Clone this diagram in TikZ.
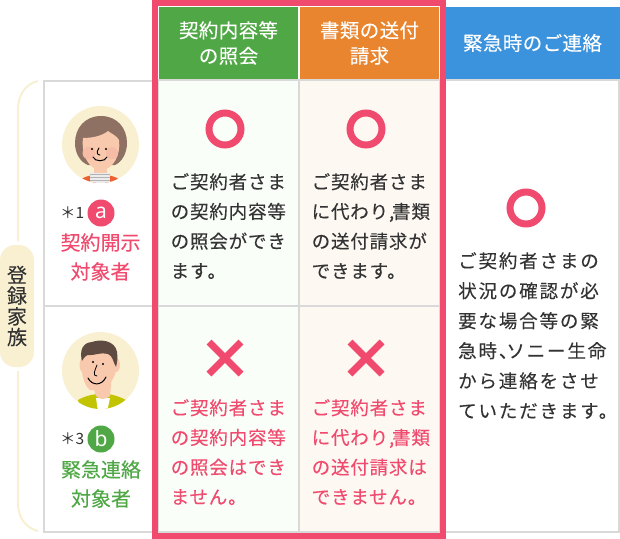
\documentclass[tikz,border=0pt]{standalone}
\usepackage{fontspec}
\usetikzlibrary{calc}
\setmainfont{Noto Sans CJK JP}[FakeBold=0.15]
\newfontfamily\latinf{Noto Sans}
\newfontfamily\cjkthin{Noto Sans CJK JP}
\definecolor{pinkc}{HTML}{F04A6E}
\definecolor{greenc}{HTML}{4FA845}
\definecolor{orangec}{HTML}{E8852E}
\definecolor{bluec}{HTML}{3A93DC}
\definecolor{beigec}{HTML}{F9F0D2}
\definecolor{gridc}{HTML}{D9D9D9}
\definecolor{inkc}{HTML}{333333}
\definecolor{greenbg}{HTML}{FAFEF9}
\definecolor{orangebg}{HTML}{FDF8F2}
\definecolor{hairA}{HTML}{8E7163}
\definecolor{hairB}{HTML}{5E4A40}
\definecolor{skinc}{HTML}{F9C9AE}
\definecolor{cheekc}{HTML}{F7BCA6}
\definecolor{shirtA}{HTML}{EE5F32}
\definecolor{shirtB}{HTML}{C3C400}
\tikzset{
  x=1pt,y=1pt,
  cellbox/.style={draw=gridc,line width=2pt},
  headbox/.style={draw=none,minimum height=72pt,text=white,font=\fontsize{19.5}{25.5}\selectfont\addfontfeature{LetterSpace=2},align=center,inner sep=0pt},
  para/.style={anchor=north west,inner sep=0pt,align=left,text=inkc,font=\fontsize{18.5}{29.7}\selectfont\addfontfeature{LetterSpace=4.5}},
  parb/.style={para,text=pinkc},
  role/.style={inner sep=0pt,align=center,font=\fontsize{20}{29}\selectfont},
  okmark/.style={circle,draw=pinkc,line width=7pt,minimum size=32pt,inner sep=0pt},
  badge/.style={circle,minimum size=27pt,inner sep=0pt,text=white,font=\latinf\bfseries\fontsize{21}{21}\selectfont},
  noteno/.style={inner sep=0pt,anchor=west,text=inkc,font=\cjkthin\fontsize{15.5}{15.5}\selectfont},
}
\begin{document}
\begin{tikzpicture}
\useasboundingbox (0,0) rectangle (620,-538);
\fill[white] (0,0) rectangle (620,-538);
% left cells
\draw[cellbox] (44,-81) rectangle (157,-306);
\draw[cellbox] (44,-306) rectangle (157,-532);
% middle columns
\draw[cellbox,fill=greenbg] (158,-80) rectangle (299,-306);
\draw[cellbox,fill=orangebg] (299,-80) rectangle (440,-306);
\draw[cellbox,fill=greenbg] (158,-306) rectangle (299,-532);
\draw[cellbox,fill=orangebg] (299,-306) rectangle (440,-532);
\draw[cellbox] (445,-80) rectangle (619,-532);
% headers
\node[headbox,fill=greenc,minimum width=139pt] (h1) at (228.5,-43) {契約内容等\\の照会};
\node[headbox,fill=orangec,minimum width=139pt] (h2) at (369.5,-43) {書類の送付\\請求};
\node[headbox,fill=bluec,minimum width=175pt] (h3) at (532.5,-43) {緊急時のご連絡};
% pink frame
\draw[pinkc,line width=6pt] (155,-3) rectangle (443,-536);
% marks
\node[okmark] (o1) at (225,-129) {};
\node[okmark] (o2) at (366,-129) {};
\node[okmark] (o3) at (526,-208) {};
\foreach \n/\cx in {x1/225,x2/366}{
  \coordinate (\n) at (\cx,-358);
  \draw[pinkc,line width=7pt] ($(\n)+(-16,16)$) -- ($(\n)+(16,-16)$);
  \draw[pinkc,line width=7pt] ($(\n)+(-16,-16)$) -- ($(\n)+(16,16)$);
}
% paragraphs
\node[para] (t1) at (170.5,-173) {ご契約者さま\\の契約内容等\\の照会ができ\\ます。};
\node[para] (t2) at (311.5,-173) {ご契約者さま\\に代わり,\kern-2pt 書類\\の送付請求が\\できます。};
\node[parb] (t3) at (170.5,-399) {ご契約者さま\\の契約内容等\\の照会はでき\\ません。};
\node[parb] (t4) at (311.5,-399) {ご契約者さま\\に代わり,\kern-2pt 書類\\の送付請求は\\できません。};
\node[para,font=\fontsize{18.5}{30}\selectfont\addfontfeature{LetterSpace=10}] (t5) at (458,-252) {ご契約者さまの\\状況の確認が必\\要な場合等の緊\\急時、\kern-11pt ソニー生命\\から連絡をさせ\\ていただきます。};
% bracket
\node[fill=beigec,rounded corners=15pt,minimum width=34pt,minimum height=122pt,inner sep=0pt,text=inkc,align=center,font=\fontsize{20}{20.7}\selectfont] (fam) at (17,-306) {登\\録\\家\\族};
\coordinate (br1) at (38,-81);
\coordinate (br2) at (38,-531);
\draw[beigec,line width=2pt] (br1) .. controls (26,-84) and (18,-94) .. (18,-110) -- (18,-241);
\draw[beigec,line width=2pt] (18,-371) -- (18,-503) .. controls (18,-518) and (26,-528) .. (br2);
% avatar a
\node[circle,fill=beigec,minimum size=77pt,inner sep=0pt] (ava) at (100.5,-144.5) {};
\begin{scope}
\clip (ava) circle (38.5);
\fill[shirtA] (78,-182) .. controls (86,-172) and (114,-172) .. (122,-182) -- (122,-190) -- (78,-190) -- cycle;
\fill[white!85!gray] (90,-172) rectangle (110,-184);
\foreach \yy in {-174,-177,-180}{\fill[gray!60] (90,\yy) rectangle (110,\yy-1.2);}
\fill[skinc] (94,-160) rectangle (107,-173) ;
\fill[hairA] (101,-116) .. controls (117,-116) and (127,-128) .. (127,-143) .. controls (127,-153) and (122,-162) .. (115,-165) -- (88,-165) .. controls (80,-162) and (75,-153) .. (75,-143) .. controls (75,-128) and (85,-116) .. (101,-116) -- cycle;
\fill[skinc] (83,-138) .. controls (92,-138) and (102,-136) .. (108,-131) .. controls (112,-134) and (117,-136) .. (119,-140) .. controls (121,-155) and (113,-170) .. (101,-170) .. controls (89,-170) and (81,-155) .. (83,-138) -- cycle;
\fill[cheekc] (89,-153) circle (6.5);
\fill[cheekc] (112,-153) circle (6);
\fill[black] (92,-149) circle (1.1);
\fill[black] (106,-149) circle (1.1);
\draw[black,line width=.9pt,line cap=round] (99,-148) .. controls (96,-152) and (97,-155) .. (100,-155);
\draw[black,line width=1pt,line cap=round] (93,-157) .. controls (95,-162) and (105,-162) .. (107,-157);
\end{scope}
% avatar b
\node[circle,fill=beigec,minimum size=77pt,inner sep=0pt] (avb) at (100.5,-370.5) {};
\begin{scope}
\clip (avb) circle (38.5);
\fill[shirtB] (78,-400) .. controls (85,-396) and (90,-395) .. (97,-394) -- (108,-394) .. controls (115,-395) and (120,-397) .. (126,-400) -- (120,-412) -- (82,-412) -- cycle;
\fill[white] (96,-398) -- (110,-398) -- (107,-412) -- (98,-412) -- cycle;
\fill[skinc] (90,-375) -- (112,-375) -- (110,-396) .. controls (105,-400) and (100,-400) .. (96,-396) -- cycle;
\fill[skinc] (116,-365) ellipse (4 and 7);
\fill[skinc] (84,-365) ellipse (4.5 and 8);
\fill[skinc] (82,-350) .. controls (82,-345) and (116,-342) .. (116,-350) -- (116,-370) .. controls (114,-385) and (100,-392) .. (90,-390) .. controls (83,-385) and (80,-370) .. (82,-350) -- cycle;
\fill[hairB] (82,-361) .. controls (78,-345) and (88,-342) .. (92,-342) .. controls (100,-339) and (115,-340) .. (117,-352) .. controls (118,-358) and (117,-363) .. (116,-367) .. controls (113,-362) and (113,-356) .. (108,-354) .. controls (100,-352) and (92,-356) .. (90,-355) .. controls (86,-354) and (84,-358) .. (82,-361) -- cycle;
\fill[black] (93,-362) circle (1.1);
\fill[black] (103,-364) circle (1.1);
\draw[black,line width=.8pt,line cap=round] (97,-365) .. controls (95,-370) and (92,-376) .. (97,-376);
\draw[black,line width=1pt,line cap=round] (88,-378) .. controls (92,-386) and (102,-386) .. (106,-377);
\end{scope}
% badges and roles
\node[noteno] (na) at (60,-213) {＊1};
\node[badge,fill=pinkc] (ba) at (101,-213) {a};
\node[role,text=pinkc] (ra) at (100.5,-257) {契約開示\\対象者};
\node[noteno] (nb) at (60,-439) {＊3};
\node[badge,fill=greenc] (bb) at (101,-439) {b};
\node[role,text=greenc] (rb) at (101,-484) {緊急連絡\\対象者};
\end{tikzpicture}
\end{document}
